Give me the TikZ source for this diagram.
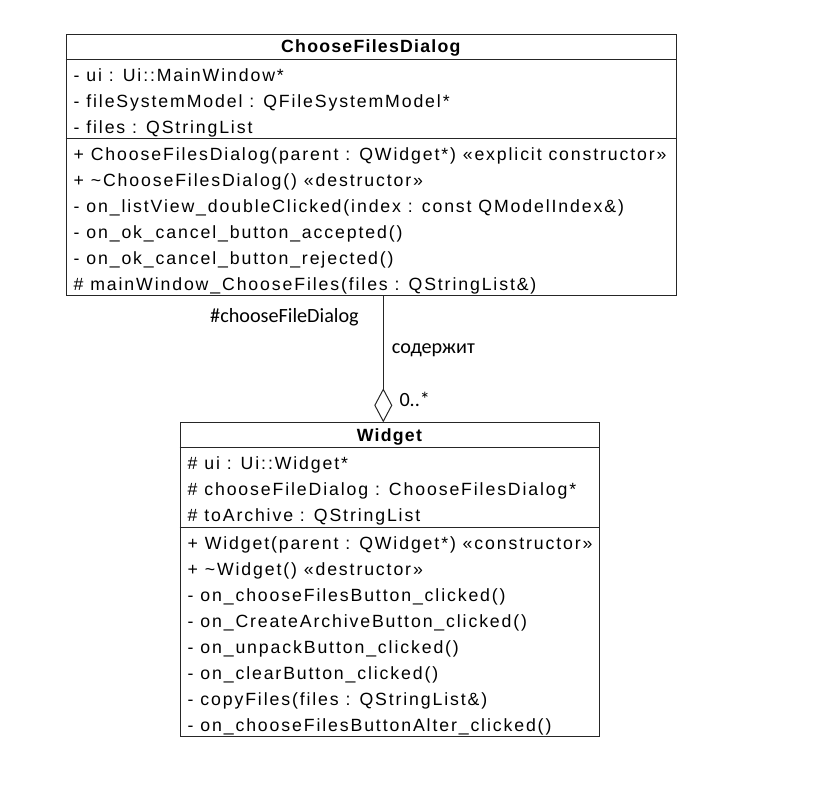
\documentclass[tikz,border=0pt]{standalone}
\usepackage{fontspec}
\setmainfont{Liberation Sans}
\newfontfamily\umlfont[LetterSpace=10.6]{Liberation Sans}
\newfontfamily\umlhead[LetterSpace=7]{Liberation Sans}
\newfontfamily\lblfont{Carlito}
\usetikzlibrary{arrows.meta}
\tikzset{
  umlbox/.style={draw=black!85, line width=1pt, inner sep=0pt, anchor=north west, fill=white},
  sepline/.style={draw=black!85, line width=1pt},
  rowtxt/.style={inner sep=0pt, anchor=base west, font=\umlfont\fontsize{17.7}{20}\selectfont},
  headtxt/.style={inner sep=0pt, anchor=base, font=\umlhead\bfseries\fontsize{17.7}{20}\selectfont},
  lbl/.style={inner sep=0pt, anchor=base west, font=\lblfont\fontsize{20.2}{24}\selectfont},
  aggr/.style={draw=black!85, line width=1pt, -{Diamond[open, length=34pt, width=18pt]}}
}
\begin{document}
\begin{tikzpicture}[x=1pt,y=-1pt]
\useasboundingbox (0,0) rectangle (814,796);
% ---- ChooseFilesDialog ----
\node[umlbox, minimum width=610.5pt, minimum height=261pt] (cfd) at (65.5,34) {};
\draw[sepline] (65.5,59.5) -- (676,59.5);
\draw[sepline] (65.5,138.5) -- (676,138.5);
\node[headtxt] (cfdh) at (370.8,52.8) {ChooseFilesDialog};
\node[rowtxt] (ca1) at (73.5,81) {- ui : Ui::MainWindow*};
\node[rowtxt] (ca2) at (73.5,107.3) {- fileSystemModel : QFileSystemModel*};
\node[rowtxt] (ca3) at (73.5,133.6) {- files : QStringList};
\node[rowtxt] (cm1) at (73.5,160) {+ ChooseFilesDialog(parent : QWidget*) «explicit constructor»};
\node[rowtxt] (cm2) at (73.5,186) {+ \~{}ChooseFilesDialog() «destructor»};
\node[rowtxt] (cm3) at (73.5,212) {- on\_listView\_doubleClicked(index : const QModelIndex\&)};
\node[rowtxt] (cm4) at (73.5,238) {- on\_ok\_cancel\_button\_accepted()};
\node[rowtxt] (cm5) at (73.5,264) {- on\_ok\_cancel\_button\_rejected()};
\node[rowtxt] (cm6) at (73.5,290) {\# mainWindow\_ChooseFiles(files : QStringList\&)};
% ---- Widget ----
\node[umlbox, minimum width=419.8pt, minimum height=313.7pt] (w) at (179.5,422.3) {};
\draw[sepline] (179.5,447.7) -- (599.3,447.7);
\draw[sepline] (179.5,527.7) -- (599.3,527.7);
\node[headtxt] (wh) at (389.4,441) {Widget};
\node[rowtxt] (wa1) at (187.5,469) {\# ui : Ui::Widget*};
\node[rowtxt] (wa2) at (187.5,495) {\# chooseFileDialog : ChooseFilesDialog*};
\node[rowtxt] (wa3) at (187.5,521) {\# toArchive : QStringList};
\node[rowtxt] (wm1) at (187.5,549) {+ Widget(parent : QWidget*) «constructor»};
\node[rowtxt] (wm2) at (187.5,575) {+ \~{}Widget() «destructor»};
\node[rowtxt] (wm3) at (187.5,601) {- on\_chooseFilesButton\_clicked()};
\node[rowtxt] (wm4) at (187.5,627) {- on\_CreateArchiveButton\_clicked()};
\node[rowtxt] (wm5) at (187.5,653) {- on\_unpackButton\_clicked()};
\node[rowtxt] (wm6) at (187.5,679) {- on\_clearButton\_clicked()};
\node[rowtxt] (wm7) at (187.5,705) {- copyFiles(files : QStringList\&)};
\node[rowtxt] (wm8) at (187.5,731) {- on\_chooseFilesButtonAlter\_clicked()};
% ---- aggregation ----
\coordinate (cx) at (383.3,0);
\draw[aggr] (cfd.south -| cx) -- (w.north -| cx);
\node[lbl] (role) at (210,322.7) {\#chooseFileDialog};
\node[lbl] (name) at (391.7,353.3) {содержит};
\node[lbl] (mult) at (399.3,406) {0..*};
\end{tikzpicture}
\end{document}
